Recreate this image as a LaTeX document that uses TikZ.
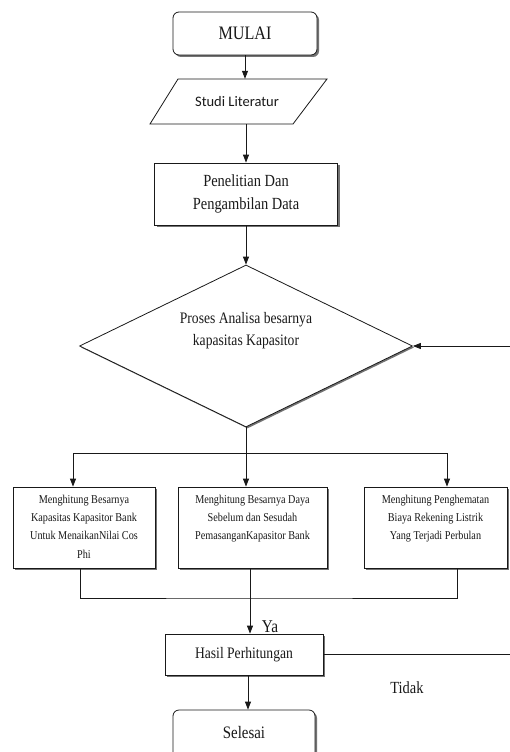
\documentclass[tikz,border=0pt]{standalone}
\usepackage{fontspec}
\setmainfont[FakeStretch=0.85]{Liberation Serif}
\newfontfamily\calfont{Carlito}
\usetikzlibrary{shapes.geometric,arrows.meta,shadows,calc}
\begin{document}
\begin{tikzpicture}[x=1pt,y=-1pt,
  line/.style={draw=black!90,line width=0.8pt},
  arr/.style={line,-{Triangle[length=8pt,width=6pt]}},
  shad/.style={drop shadow={shadow xshift=2pt,shadow yshift=-2pt,fill=black!55,opacity=1}},
  box/.style={line,fill=white,shad,rectangle,inner sep=0pt,align=center,text=black!90},
  term/.style={box,rounded corners=6pt},
  txt/.style={inner sep=0pt,align=center,text=black!90},
  small/.style={txt,anchor=north,font=\fontsize{12}{18.3}\selectfont}
]
\useasboundingbox[fill=white] (0,0) rectangle (509,752);

% start
\node[term,minimum width=144pt,minimum height=43pt,font=\fontsize{19}{22}\selectfont] (mulai) at (245,33.5) {MULAI};

% input parallelogram
\draw[line,fill=white] (150,124) -- (178,79) -- (327,79) -- (293,124) -- cycle;
\node[txt,minimum height=45pt,font=\calfont\fontsize{14.5}{17}\selectfont] (studi) at (237,101.5) {Studi Literatur};

% process
\node[box,minimum width=183pt,minimum height=62pt,font=\fontsize{17}{23}\selectfont] (pen) at (246,194) {Penelitian Dan\\Pengambilan Data};

% decision
\node[diamond,line,fill=white,inner sep=0pt,minimum width=333pt,minimum height=162pt,
  drop shadow={shadow xshift=1.5pt,shadow yshift=-1.5pt,fill=black!55,opacity=1}] (d) at (246,346) {};
\node[txt,font=\fontsize{16}{22}\selectfont] (dtext) at (246,331) {Proses Analisa besarnya\\kapasitas Kapasitor};

% three calculation boxes
\node[box,minimum width=142pt,minimum height=81pt] (b1) at (84,527.5) {};
\node[box,minimum width=149pt,minimum height=81pt] (b2) at (252.5,527.5) {};
\node[box,minimum width=143pt,minimum height=81pt] (b3) at (435.5,527.5) {};
\node[small] (t1) at ($(b1.north)+(0,8)$) {Menghitung Besarnya\\Kapasitas Kapasitor Bank\\Untuk MenaikanNilai Cos\\Phi};
\node[small] (t2) at ($(b2.north)+(0,8)$) {Menghitung Besarnya Daya\\Sebelum dan Sesudah\\PemasanganKapasitor Bank};
\node[small] (t3) at ($(b3.north)+(0,8)$) {Menghitung Penghematan\\Biaya Rekening Listrik\\Yang Terjadi Perbulan};

% result
\node[box,minimum width=158pt,minimum height=41pt,font=\fontsize{16}{19}\selectfont] (hasil) at (244,654.5) {Hasil Perhitungan};

% end
\node[term,minimum width=142pt,minimum height=48pt,font=\fontsize{17.5}{20}\selectfont] (selesai) at (244,734) {\raisebox{4pt}{Selesai}};

% labels
\node[txt,font=\fontsize{18}{20}\selectfont] (ya) at (270,627) {Ya};
\node[txt,font=\fontsize{17}{20}\selectfont] (tidak) at (407,688) {Tidak};

% helper coordinates
\coordinate (j) at (246,453);
\coordinate (k) at (250,598);
\coordinate (r) at (516,500);

% connectors
\draw[arr] (mulai.south) -- (mulai.south |- studi.north);
\draw[arr] (pen.north |- studi.south) -- (pen.north);
\draw[arr] (pen.south) -- (d.north);
\draw[line] (d.south) -- (j);
\draw[arr] (j) -| ([xshift=-11pt]b1.north);
\draw[arr] (j) -- (j |- b2.north);
\draw[arr] (j) -| ([xshift=11.5pt]b3.north);
\draw[line] ([xshift=-4pt]b1.south) |- (k) -| ([xshift=21.5pt]b3.south);
\draw[arr] ([xshift=-2.5pt]b2.south) -- ([xshift=-2.5pt]b2.south |- hasil.north);
\draw[arr] ([xshift=4pt]hasil.south) -- ([xshift=4pt]hasil.south |- selesai.north);
\draw[arr] (hasil.east) -| (r) |- (d.east);
\end{tikzpicture}
\end{document}
